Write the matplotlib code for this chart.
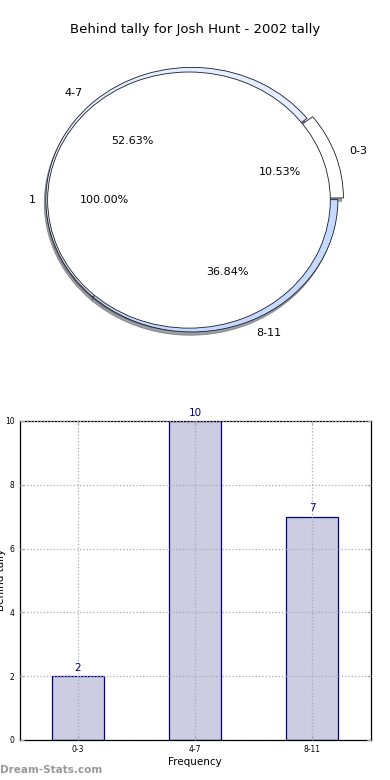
import matplotlib
matplotlib.use("Agg")
import matplotlib.pyplot as plt

title = "Behind tally for Josh Hunt - 2002 tally"
outer_labels = ["0-3", "4-7", "8-11"]
outer_values = [2, 10, 7]
inner_labels = ["1"]
inner_values = [1]
bar_labels = ["0-3", "4-7", "8-11"]
bar_values = [2, 10, 7]
yticks = [0, 2, 4, 6, 8, 10]

fig = plt.figure(figsize=(3.9, 7.8), dpi=100)
fig.patch.set_facecolor("white")

# Pie
axp = fig.add_axes([0.024, 0.532, 0.936, 0.424])
shadow_kw = dict(ox=-0.008, oy=-0.018)
w1, t1, a1 = axp.pie(outer_values, labels=outer_labels, autopct="%.2f%%",
                     explode=[0.04, 0.0, 0.0], startangle=0, shadow=shadow_kw,
                     colors=["white", "#e4eeff", "#c6daff"],
                     wedgeprops=dict(edgecolor="#1a1a2a", linewidth=0.6),
                     labeldistance=1.1, pctdistance=0.6,
                     textprops=dict(fontsize=8))
w2, t2, a2 = axp.pie(inner_values, labels=inner_labels, autopct="%.2f%%",
                     radius=0.968, center=(-0.02, -0.003), explode=[0.0],
                     startangle=0, shadow=shadow_kw, colors=["white"],
                     wedgeprops=dict(edgecolor="#1a1a2a", linewidth=0.6),
                     labeldistance=1.08, pctdistance=0.6,
                     textprops=dict(fontsize=8))
for t in list(t1) + list(a1):
    t.set_zorder(10)
axp.set_aspect("auto")
axp.set_xlim(-1.25, 1.25)
axp.set_ylim(-1.25, 1.25)
axp.axis("off")

fig.text(0.5, 1 - 30 / 780, title, ha="center", va="center", fontsize=9.5)

# Bars
axb = fig.add_axes([0.05, 0.0513, 0.9, 0.409])
x = list(range(len(bar_labels)))
bars = axb.bar(x, bar_values, width=0.45, color="#cccce3",
               edgecolor="#000080", linewidth=0.9, zorder=2)
for xi, v in zip(x, bar_values):
    axb.text(xi, v + 0.1, str(v), ha="center", va="bottom", color="#000080",
             fontsize=7.5)
axb.set_xlim(-0.5, 2.5)
axb.set_ylim(0, 10)
axb.set_yticks(yticks)
axb.set_xticks(x)
axb.set_xticklabels(bar_labels)
axb.tick_params(axis="both", labelsize=5.5, direction="in", length=3,
                color="#aaaaaa", top=True, right=True)
axb.grid(True, linestyle=":", color="#aaaaaa", linewidth=0.9, zorder=1)
axb.set_axisbelow(False)
axb.set_xlabel("Frequency", fontsize=7.5, labelpad=2)
for s in axb.spines.values():
    s.set_linewidth(0.9)

fig.text(1 / 390, 1 - 580 / 780, "Behind tally", rotation=90, ha="center",
         va="center", fontsize=7.5)
fig.text(0.0, 1 - 770 / 780, "Dream-Stats.com", ha="left", va="center",
         fontsize=7.5, color="#999999", fontweight="bold")

fig.savefig("out.png", dpi=100)
